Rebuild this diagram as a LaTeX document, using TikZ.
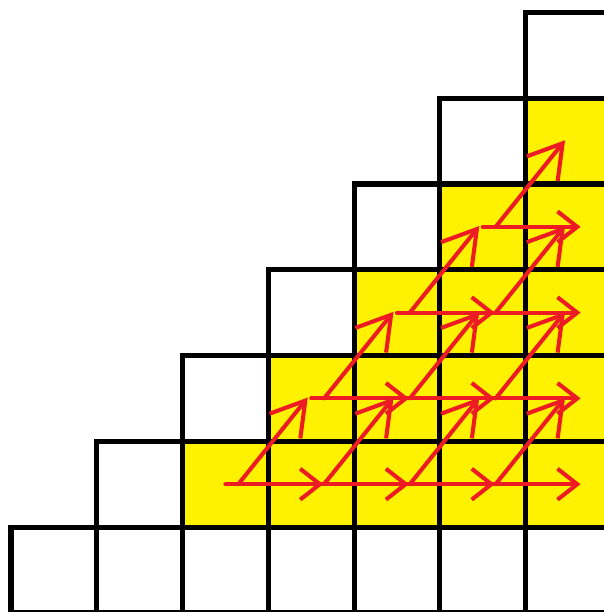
\documentclass[tikz,border=0pt]{standalone}
\usepackage{xcolor}
\usepackage{tikz}
\usetikzlibrary{arrows.meta}

\definecolor{paintyellow}{RGB}{255,242,0}
\definecolor{paintred}{RGB}{237,28,36}

\begin{document}
\begin{tikzpicture}[
  x=1cm, y=1cm,
  cell/.style={draw, line width=1.7pt, minimum size=1cm, inner sep=0pt,
               outer sep=0pt, fill=white},
  hot/.style={cell, fill=paintyellow},
  harr/.style={-{Straight Barb[length=0.23cm, width=0.36cm]}, draw=paintred,
               line width=1.35pt, line cap=round},
  darr/.style={-{Straight Barb[length=0.38cm, width=0.46cm]}, draw=paintred,
               line width=1.35pt, line cap=round}
]
\useasboundingbox (-0.128,0.01) rectangle (6.912,7.145);

% bottom row
\foreach \c in {0,...,6}
  \node[cell] (c\c-0) at (\c+0.5,0.5) {};

% staircase: first cell of each row white, the rest yellow
\foreach \r in {1,...,6} {
  \node[cell] (c\r-\r) at (\r+0.5,\r+0.5) {};
  \ifnum\r<6
    \pgfmathtruncatemacro\first{\r+1}
    \foreach \c in {\first,...,6}
      \node[hot] (c\c-\r) at (\c+0.5,\r+0.5) {};
  \fi
}

% arrows: along the row and one step up to the right
\foreach \r [evaluate=\r as \ru using int(\r+1)] in {1,...,5} {
  \pgfmathtruncatemacro\first{\r+1}
  \ifnum\first<6
    \foreach \c [evaluate=\c as \cn using int(\c+1)] in {\first,...,5} {
      \draw[harr] (c\c-\r.center) -- ([xshift=0.14cm]c\cn-\r.center);
      \draw[darr] ([xshift=0.15cm]c\c-\r.center) -- ([xshift=-0.04cm,yshift=0.01cm]c\cn-\ru.center);
    }
  \fi
}
\end{tikzpicture}
\end{document}
